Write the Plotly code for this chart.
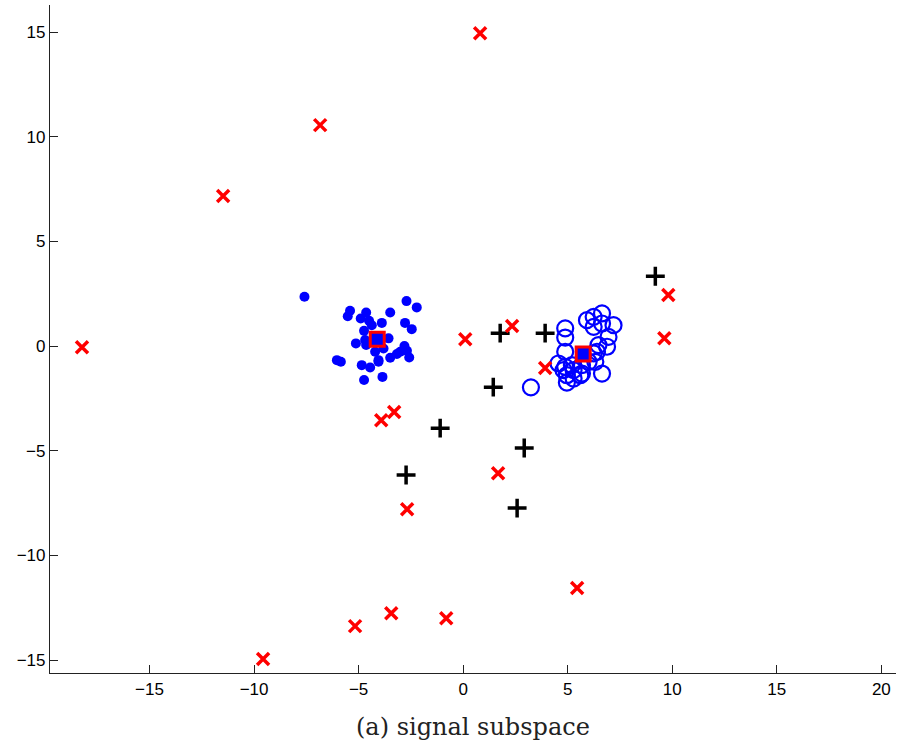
import plotly.graph_objects as go

# Cluster 1 (filled blue dots)
c1_x = [-7.59, -5.41, -5.52, -4.64, -4.9, -4.5, -3.89, -3.49, -2.71, -2.22, -2.78, -2.46,
        -4.74, -3.57, -5.13, -4.64, -4.21, -4.05, -3.49, -3.17, -2.81, -2.69, -2.58, -6.04,
        -5.85, -4.85, -4.45, -4.05, -4.74, -3.86, -4.69, -4.37, -3.81, -3.01]
c1_y = [2.36, 1.69, 1.43, 1.61, 1.32, 1.21, 1.11, 1.61, 2.15, 1.85, 1.11, 0.81,
        0.73, 0.37, 0.13, 0.05, -0.27, -0.67, -0.56, -0.38, 0.0, -0.22, -0.54, -0.67,
        -0.75, -0.91, -1.02, -0.75, -1.62, -1.47, 0.29, 1.0, -0.11, -0.27]

# Cluster 2 (open blue circles)
c2_x = [3.24, 4.88, 4.88, 4.88, 4.56, 4.88, 4.96, 4.96, 5.28, 5.68, 5.92, 6.24, 6.64,
        6.24, 6.64, 7.19, 6.95, 6.88, 6.47, 6.4, 6.32, 6.64, 6.0, 5.6, 5.28, 4.8, 5.2,
        5.68, 6.24]
c2_y = [-1.97, 0.85, 0.41, -0.27, -0.83, -0.99, -1.74, -1.39, -1.15, -1.31, 1.24, 1.4, 1.56,
        0.92, 1.08, 1.0, 0.44, -0.03, 0.05, -0.27, -0.75, -1.31, -0.75, -1.39, -1.55, -1.15,
        -0.91, -0.91, -0.35]

# Red crosses
rx_x = [0.81, -6.84, -11.48, -18.23, 0.1, 2.34, 3.92, 9.62, 9.81, -3.3, -3.92, 1.67,
        -2.68, 5.45, -3.44, -0.81, -5.17, -9.57]
rx_y = [14.95, 10.56, 7.17, -0.05, 0.33, 0.96, -1.05, 0.38, 2.44, -3.15, -3.54, -6.07,
        -7.79, -11.56, -12.76, -13.0, -13.38, -14.95]

# Black plus markers
bp_x = [9.19, 1.77, 3.92, 1.44, -1.1, 2.92, -2.73, 2.58]
bp_y = [3.34, 0.62, 0.62, -1.96, -3.92, -4.87, -6.16, -7.74]

# Red squares (centroids)
sq_x = [-4.11, 5.74]
sq_y = [0.33, -0.38]

x_ticks = [-15, -10, -5, 0, 5, 10, 15, 20]
y_ticks = [-15, -10, -5, 0, 5, 10, 15]

fig = go.Figure()
fig.add_trace(go.Scatter(x=c1_x, y=c1_y, mode="markers",
                         marker=dict(symbol="circle", size=10, color="#0000ff", line=dict(width=0))))
fig.add_trace(go.Scatter(x=c2_x, y=c2_y, mode="markers",
                         marker=dict(symbol="circle-open", size=16, color="#0000ff", line=dict(width=2.2, color="#0000ff"))))
fig.add_trace(go.Scatter(x=bp_x, y=bp_y, mode="markers",
                         marker=dict(symbol="cross-thin", size=13.5, color="black", line=dict(width=3.5, color="black"))))
fig.add_trace(go.Scatter(x=rx_x, y=rx_y, mode="markers",
                         marker=dict(symbol="x-thin", size=12, color="#ff0000", line=dict(width=3.5, color="#ff0000"))))
fig.add_trace(go.Scatter(x=sq_x, y=sq_y, mode="markers",
                         marker=dict(symbol="square", size=14, color="#0000ff", line=dict(width=3, color="#ff0000"))))

axis_font = dict(family="Liberation Sans, Arial, sans-serif", size=17, color="black")
fig.update_layout(
    width=899, height=748,
    margin=dict(l=50, r=3, t=5, b=75, autoexpand=False),
    plot_bgcolor="white", paper_bgcolor="white",
    showlegend=False,
    xaxis=dict(range=[-19.76, 20.7], tickvals=x_ticks, ticks="inside", ticklen=8, tickwidth=1,
               tickcolor="#222", showline=True, linecolor="#222", linewidth=1.2, showgrid=False,
               zeroline=False, tickfont=axis_font, mirror=False),
    yaxis=dict(range=[-15.62, 16.3], tickvals=y_ticks, ticks="inside", ticklen=8, tickwidth=1,
               tickcolor="#222", showline=True, linecolor="#222", linewidth=1.2, showgrid=False,
               zeroline=False, tickfont=axis_font, mirror=False),
    annotations=[dict(text="(a) signal subspace", x=0.5, xref="paper", y=-0.081, yref="paper",
                      xanchor="center", yanchor="middle", showarrow=False,
                      font=dict(family="DejaVu Serif, Liberation Serif, serif", size=24, color="#222"))],
)

fig.write_html("out.html", config={"displayModeBar": False},
               post_script="document.body.style.margin='0';document.body.style.overflow='hidden';")
